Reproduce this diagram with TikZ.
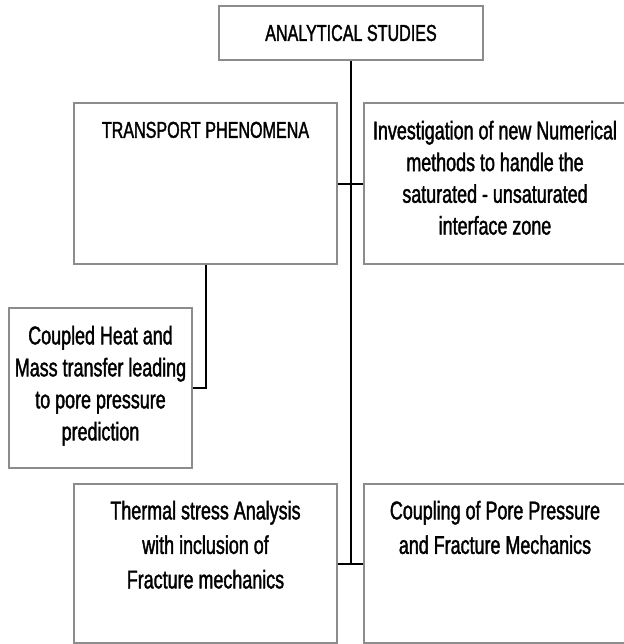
\documentclass[tikz,border=0pt]{standalone}
\usepackage{fontspec}
\setmainfont{Liberation Sans}[FakeStretch=0.70,FakeBold=1.5]
\usetikzlibrary{calc}

\tikzset{every picture/.style={line width=0.75pt}}
\tikzset{
  box/.style={draw={rgb,255:red,140;green,140;blue,140}, line width=1.1pt, rectangle, inner sep=0pt},
  link/.style={draw=black, line width=1.5pt},
  txt/.style={anchor=north, align=center, inner sep=0pt, font=\fontsize{19.2}{23.8}\selectfont},
  captxt/.style={align=center, inner sep=0pt, font=\fontsize{17.25}{21}\selectfont}
}

\begin{document}
\begin{tikzpicture}[x=0.75pt,y=0.75pt,yscale=-1,xscale=1]
\useasboundingbox (0,0) rectangle (624,644);

%Shape: Rectangle [id:top]
\node[box, minimum width=198pt, minimum height=40.5pt] (top) at (351,33) {};
%Shape: Rectangle [id:transport]
\node[box, minimum width=197.25pt, minimum height=120.75pt] (tp) at (205.5,183.5) {};
%Shape: Rectangle [id:numerical]
\node[box, minimum width=196.5pt, minimum height=120.75pt] (inv) at (495,183.5) {};
%Shape: Rectangle [id:heatmass]
\node[box, minimum width=137.25pt, minimum height=120pt] (coupled) at (100.5,388) {};
%Shape: Rectangle [id:thermal]
\node[box, minimum width=197.25pt, minimum height=119.25pt] (thermal) at (205.5,563.5) {};
%Shape: Rectangle [id:fracture]
\node[box, minimum width=196.5pt, minimum height=119.25pt] (coupling) at (495,563.5) {};

%Straight Lines
\draw[link] (top.south) -- (top.south |- thermal.east) ;
\draw[link] (tp.east) -- (inv.west) ;
\draw[link] (thermal.east) -- (coupling.west) ;
\draw[link] (tp.south) |- (coupled.east) ;

% Text Node
\node[captxt] (topText) at (top.center) {ANALYTICAL STUDIES};
% Text Node
\node[captxt, anchor=north] (tpText) at ($(tp.north)+(0,19)$) {TRANSPORT PHENOMENA};
% Text Node
\node[txt] (invText) at ($(inv.north)+(0,18)$) {Investigation of new Numerical\\methods to handle the\\saturated - unsaturated\\interface zone};
% Text Node
\node[txt, font=\fontsize{19.2}{24}\selectfont] (coupledText) at ($(coupled.north)+(0,18)$) {Coupled Heat and\\Mass transfer leading\\to pore pressure\\prediction};
% Text Node
\node[txt, font=\fontsize{19.2}{25.9}\selectfont] (thermalText) at ($(thermal.north)+(0,17)$) {Thermal stress Analysis\\with inclusion of\\Fracture mechanics};
% Text Node
\node[txt, font=\fontsize{19.2}{25.9}\selectfont] (couplingText) at ($(coupling.north)+(0,17)$) {Coupling of Pore Pressure\\and Fracture Mechanics};

\end{tikzpicture}
\end{document}
